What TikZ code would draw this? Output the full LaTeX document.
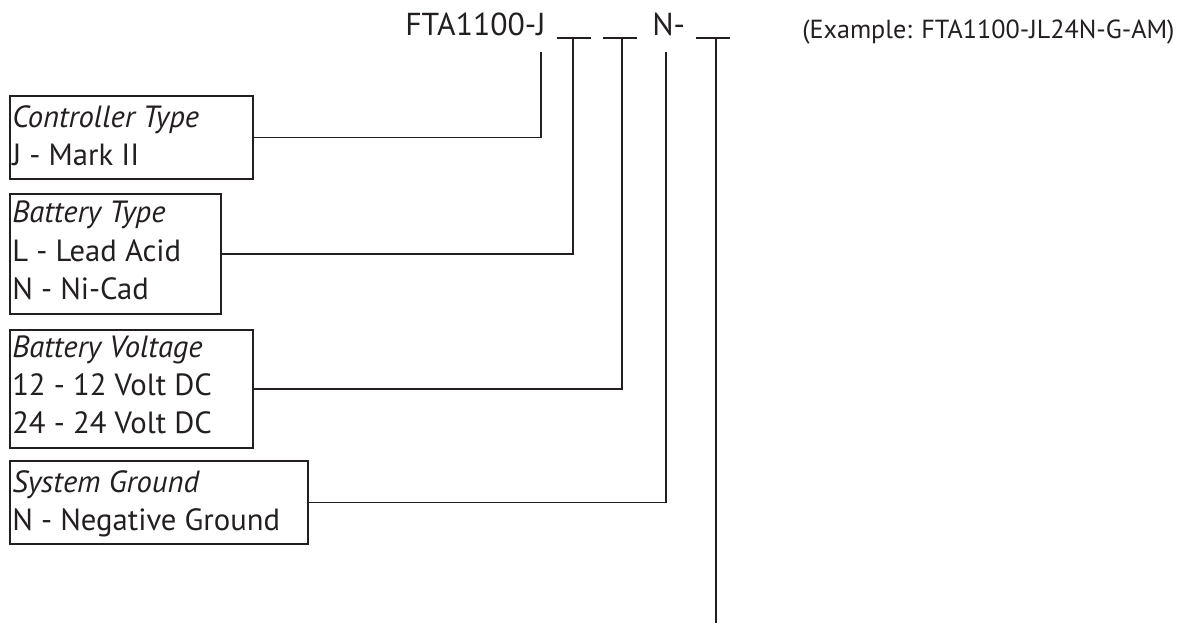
\documentclass[tikz,border=0pt]{standalone}
\usepackage{fontspec}
\setmainfont{PT Sans}
\definecolor{ink}{HTML}{231F20}
\begin{document}
\begin{tikzpicture}[x=0.75pt,y=-0.75pt,
  boxnode/.style={draw=ink,line width=1.5pt,inner sep=0pt,anchor=north west},
  lbl/.style={inner sep=0pt,anchor=base west,text=ink,font=\fontsize{23}{26}\selectfont},
  ttl/.style={inner sep=0pt,anchor=base west,text=ink,font=\fontsize{23.8}{26}\selectfont},
  wire/.style={draw=ink,line width=1.3pt}]
\useasboundingbox (0,0) rectangle (1185,625);
% header
\node[ttl] (code) at (405,35) {FTA1100-J};
\node[ttl] (ncode) at (652,35) {N-};
\node[inner sep=0pt,anchor=base west,text=ink,font=\fontsize{19.6}{22}\selectfont] (ex) at (802,38) {(Example: FTA1100-JL24N-G-AM)};
\coordinate (u1a) at (557,38); \coordinate (u1b) at (591,38);
\coordinate (u2a) at (603,38); \coordinate (u2b) at (637,38);
\coordinate (u3a) at (696,38); \coordinate (u3b) at (730,38);
\draw[wire] (u1a) -- (u1b);
\draw[wire] (u2a) -- (u2b);
\draw[wire] (u3a) -- (u3b);
\coordinate (j1) at (541,52);
\coordinate (j2) at (573,38);
\coordinate (j3) at (622,38);
\coordinate (j4) at (666,52);
\coordinate (j5) at (716,38);
\coordinate (j5end) at (716,623);
% boxes
\node[boxnode,minimum width=243*0.75pt,minimum height=83*0.75pt] (b1) at (9,95) {};
\node[boxnode,minimum width=211*0.75pt,minimum height=120*0.75pt] (b2) at (9,193) {};
\node[boxnode,minimum width=243*0.75pt,minimum height=118*0.75pt] (b3) at (9,329) {};
\node[boxnode,minimum width=298*0.75pt,minimum height=83*0.75pt] (b4) at (9,460) {};
% texts
\node[lbl] (t1a) at (12,127) {\itshape Controller Type};
\node[lbl] (t1b) at (12,165) {J - Mark II};
\node[lbl] (t2a) at (12,222) {\itshape Battery Type};
\node[lbl] (t2b) at (12,261) {L - Lead Acid};
\node[lbl] (t2c) at (12,299) {N - Ni-Cad};
\node[lbl] (t3a) at (12,357) {\itshape Battery Voltage};
\node[lbl] (t3b) at (12,395) {12 - 12 Volt DC};
\node[lbl] (t3c) at (12,433) {24 - 24 Volt DC};
\node[lbl] (t4a) at (12,492) {\itshape System Ground};
\node[lbl] (t4b) at (12,530) {N - Negative Ground};
% connectors
\draw[wire] (b1.east) -| (j1);
\draw[wire] (b2.east) -| (j2);
\draw[wire] (b3.east) -| (j3);
\draw[wire] (b4.east) -| (j4);
\draw[wire] (j5) -- (j5end);
\end{tikzpicture}
\end{document}
